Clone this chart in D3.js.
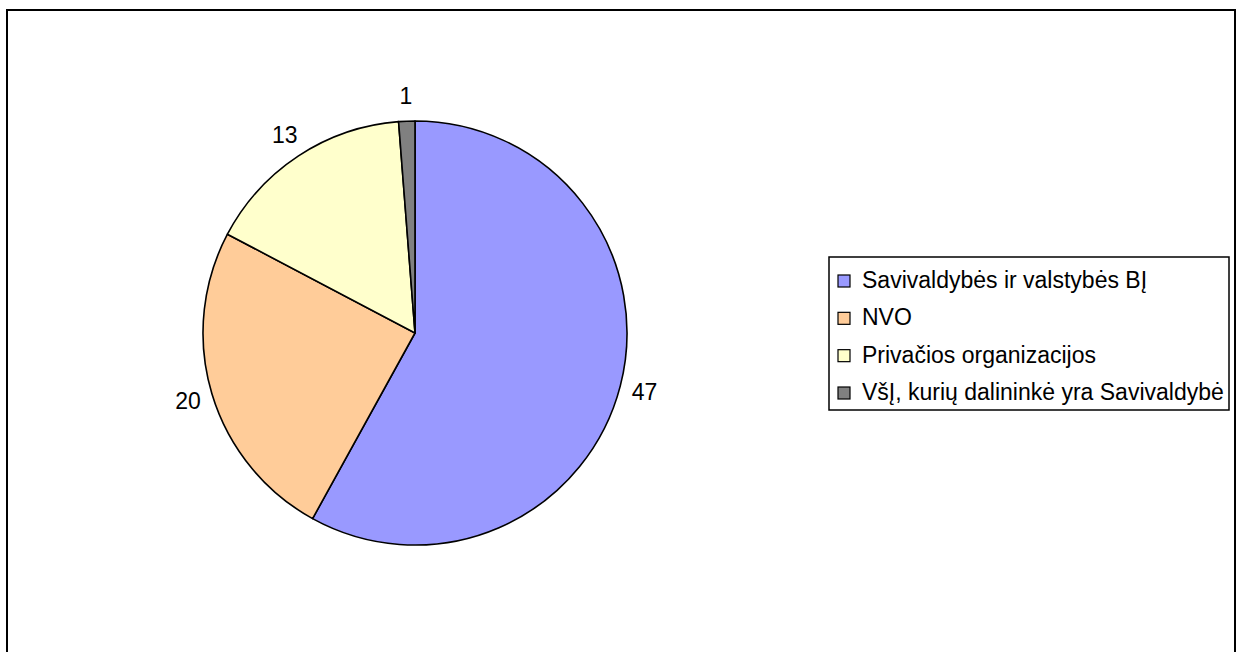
<!DOCTYPE html>
<html>
<head>
<meta charset="utf-8">
<script src="https://cdn.jsdelivr.net/npm/d3@7"></script>
<style>
  body { margin: 0; background: #fff; }
  text { font-family: "Liberation Sans", Arial, sans-serif; }
</style>
</head>
<body>
<div id="chart"></div>
<script>
// slices, clockwise from 12 o'clock
const categories = ["Savivaldybės ir valstybės BĮ", "NVO", "Privačios organizacijos", "VšĮ, kurių dalininkė yra Savivaldybė"];
const values = [47, 20, 13, 1];
const colors = ["#9999FF", "#FFCC99", "#FFFFCC", "#808080"];

var width = 1238;
var height = 652;

var svg = d3.select("#chart").append("svg")
  .attr("width", width)
  .attr("height", height)

svg.append("rect")
  .attr("width", "100%")
  .attr("height", "100%")
  .attr("fill", "#fff");

// outer frame (bottom edge falls outside the picture)
svg.append("rect")
  .attr("x", 7)
  .attr("y", 10)
  .attr("width", 1228)
  .attr("height", 660)
  .attr("fill", "none")
  .attr("stroke", "#000")
  .attr("stroke-width", 2)

var cx = 415, cy = 333, radius = 212;

var pie = d3.pie().sort(null).value(d => d)
var arc = d3.arc().innerRadius(0).outerRadius(radius)
var labelArc = d3.arc().innerRadius(237).outerRadius(237)

var g = svg.append("g").attr("transform", `translate(${cx},${cy})`)

var arcs = pie(values)

g.selectAll("path")
  .data(arcs)
  .enter()
  .append("path")
  .attr("d", arc)
  .attr("fill", (d, i) => colors[i])
  .attr("stroke", "#000")
  .attr("stroke-width", 1.6)
  .attr("stroke-linejoin", "round")

g.selectAll(".lbl")
  .data(arcs)
  .enter()
  .append("text")
  .attr("class", "lbl")
  .attr("transform", d => `translate(${labelArc.centroid(d)})`)
  .attr("text-anchor", "middle")
  .attr("dy", "0.36em")
  .style("font-size", "23px")
  .attr("fill", "#000")
  .text(d => d.data)

// legend
var legend = svg.append("g").attr("transform", "translate(829,257)")
legend.append("rect")
  .attr("width", 400)
  .attr("height", 153)
  .attr("fill", "#fff")
  .attr("stroke", "#000")
  .attr("stroke-width", 1.5)

var rowY = d3.scalePoint().domain(categories).range([31, 143])

var rows = legend.selectAll(".row")
  .data(categories)
  .enter()
  .append("g")
  .attr("class", "row")
  .attr("transform", d => `translate(0,${rowY(d)})`)

rows.append("rect")
  .attr("x", 9)
  .attr("y", -13)
  .attr("width", 12)
  .attr("height", 12)
  .attr("fill", (d, i) => colors[i])
  .attr("stroke", "#000")
  .attr("stroke-width", 1.2)

rows.append("text")
  .attr("x", 33)
  .attr("y", 0)
  .style("font-size", "23px")
  .attr("fill", "#000")
  .text(d => d)
</script>
</body>
</html>
